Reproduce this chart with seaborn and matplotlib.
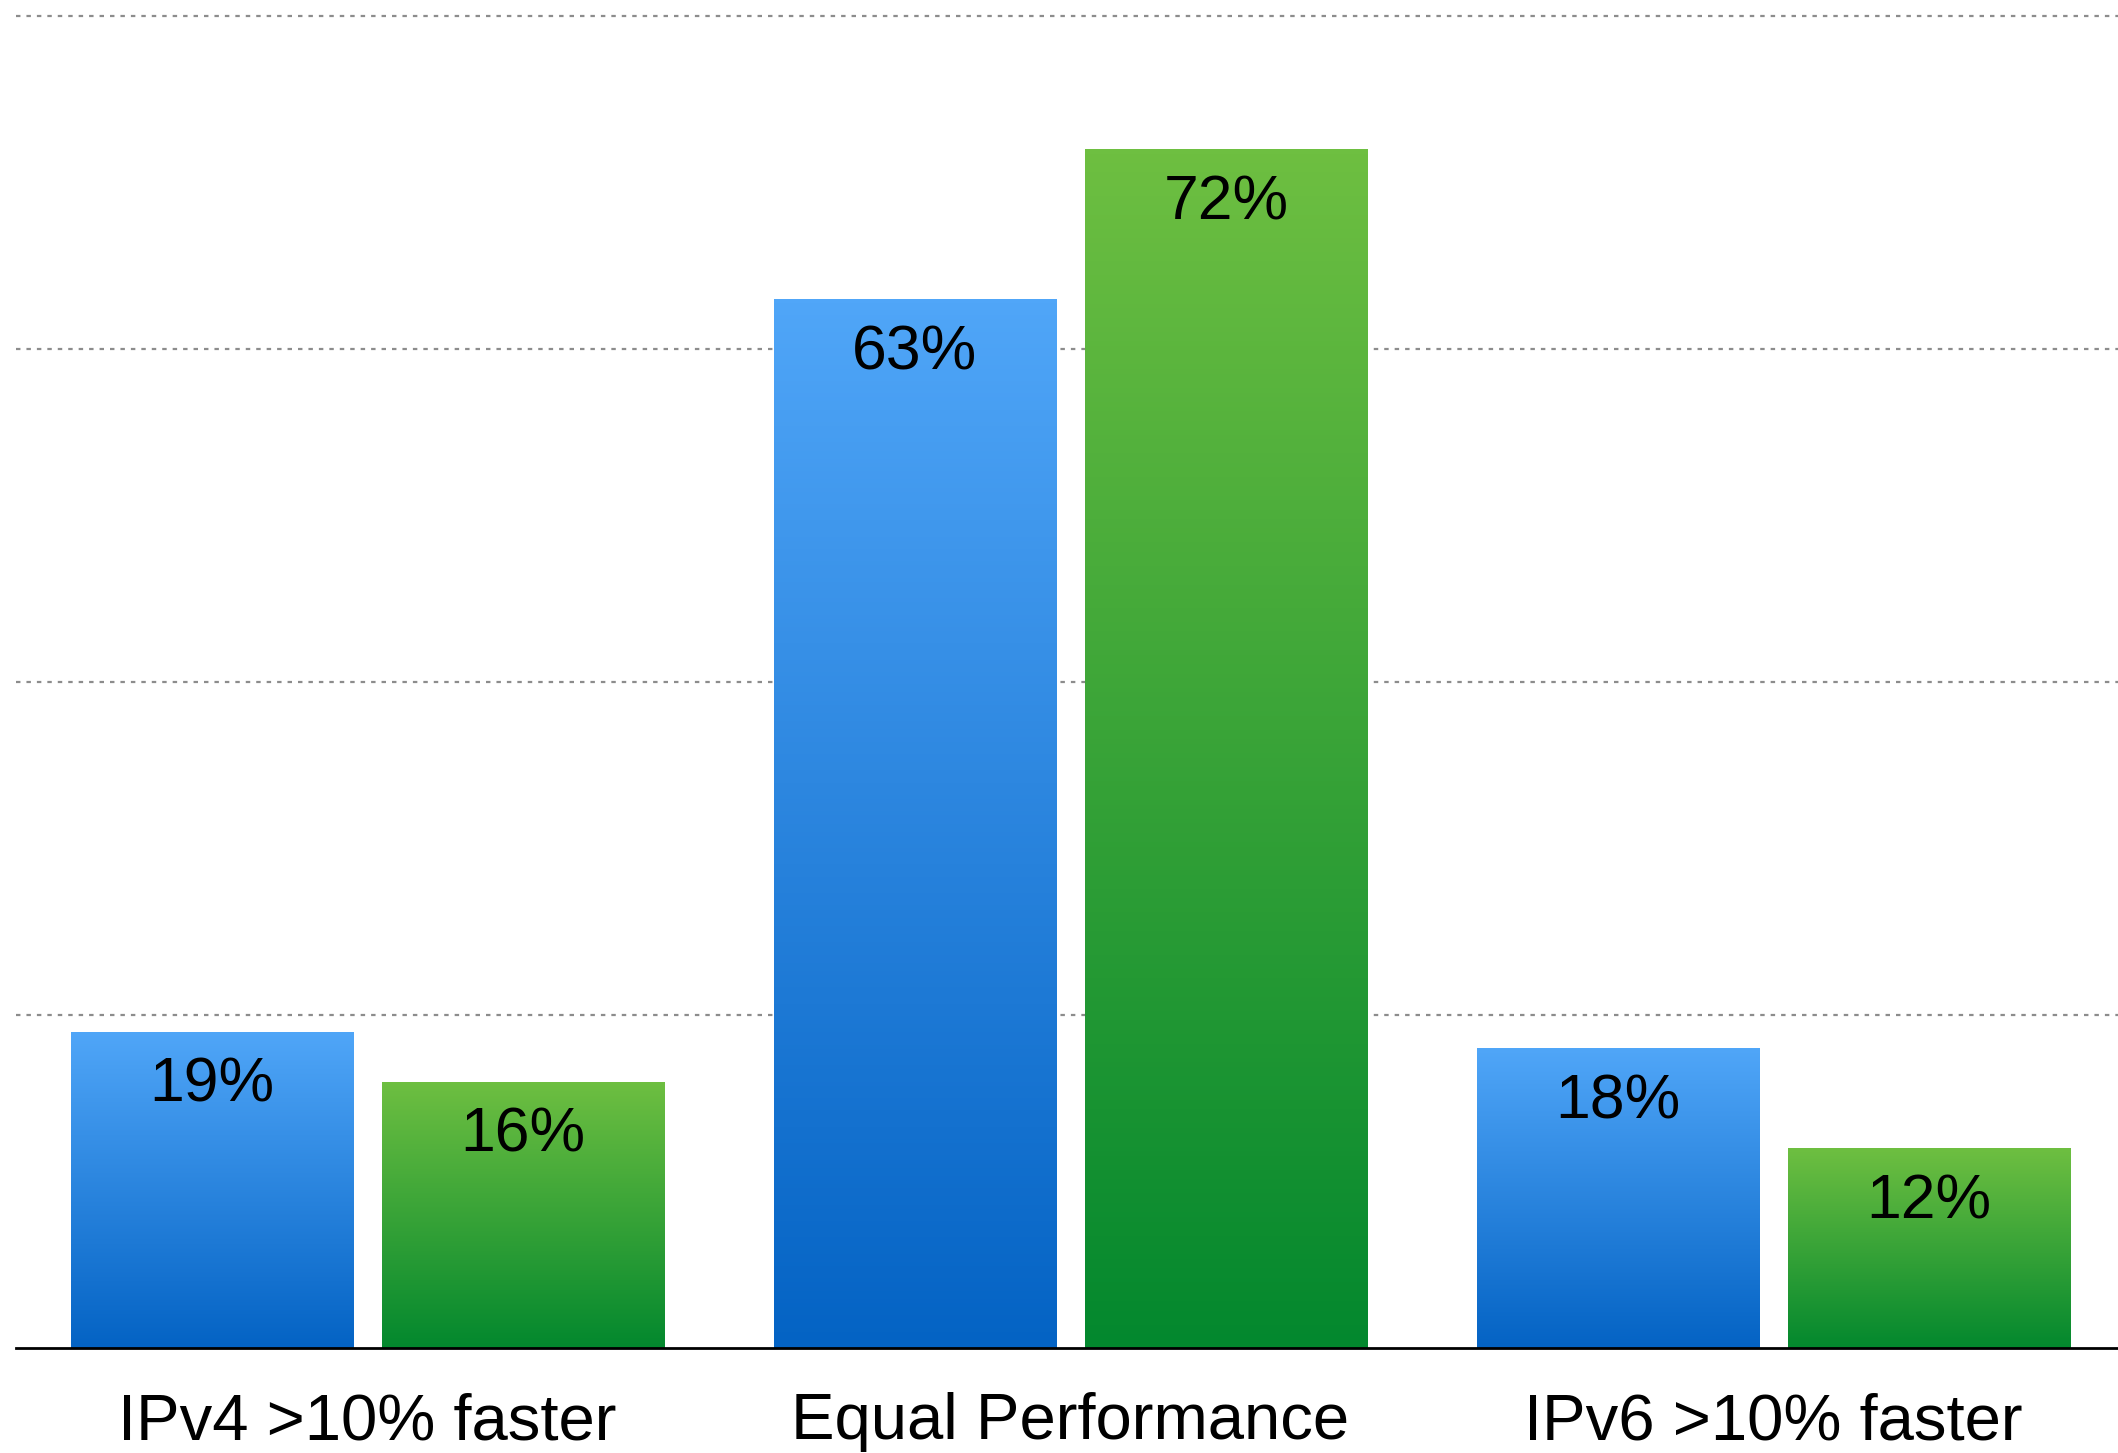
import numpy as np
import pandas as pd
import matplotlib
matplotlib.use("Agg")
from matplotlib import pyplot as plt
from matplotlib.colors import LinearSegmentedColormap
import seaborn as sns

categories = ['IPv4 >10% faster', 'Equal Performance', 'IPv6 >10% faster']
series_names = ['blue', 'green']
blue_vals = [19, 63, 18]
green_vals = [16, 72, 12]

blue_top, blue_bottom = '#50a6f8', '#0463c4'
green_top, green_bottom = '#6ebf41', '#03882e'
grid_col = '#8c8c8c'

#####-----#####

df = pd.DataFrame({
    'category': categories * 2,
    'series': [series_names[0]] * 3 + [series_names[1]] * 3,
    'value': blue_vals + green_vals,
})

sns.set_theme(style='white')
plt.rcParams['font.family'] = ['Liberation Sans', 'DejaVu Sans']

fig = plt.figure(figsize=(21.18, 14.53), dpi=100)
ax = fig.add_axes([16 / 2118, 105 / 1453, 2102 / 2118, 1348 / 1453])

g = sns.barplot(data=df, x='category', y='value', hue='series', order=categories,
                hue_order=series_names, palette=[blue_top, green_top],
                width=0.885, gap=0.093, legend=False, ax=ax, zorder=2)

# gradient fill, per bar (light at the top, dark at the bottom)
cmaps = [LinearSegmentedColormap.from_list('b', [blue_bottom, blue_top]),
         LinearSegmentedColormap.from_list('g', [green_bottom, green_top])]
grad = np.linspace(0, 1, 256).reshape(-1, 1)
for cont, cm in zip(ax.containers, cmaps):
    for bar in cont:
        x0, y0 = bar.get_x(), bar.get_y()
        w, h = bar.get_width(), bar.get_height()
        im = ax.imshow(grad, cmap=cm, aspect='auto', origin='lower',
                       extent=[x0, x0 + w, y0, y0 + h], zorder=2.1)
        im.set_clip_path(bar)
        bar.set_facecolor('none')
        bar.set_edgecolor('none')

ax.set_xlim(-0.5, 2.49)
ax.set_ylim(0, 80.96)

for cont in ax.containers:
    ax.bar_label(cont, labels=[f'{int(v)}%' for v in cont.datavalues],
                 padding=-60, fontsize=45, color='black', zorder=3)

ax.set_yticks([20, 40, 60, 80])
ax.set_yticklabels([])
ax.yaxis.grid(True, color=grid_col, linewidth=1.6, linestyle=(0, (2.0, 2.7)))
ax.xaxis.grid(False)
ax.set_axisbelow(True)

ax.set_xlabel('')
ax.set_ylabel('')
ax.tick_params(axis='x', length=0, pad=32, labelsize=47, labelcolor='black')
ax.tick_params(axis='y', length=0)

for s in ['top', 'right', 'left']:
    ax.spines[s].set_visible(False)
ax.spines['bottom'].set_color('black')
ax.spines['bottom'].set_linewidth(2.0)

plt.savefig('out.png', dpi=100)
